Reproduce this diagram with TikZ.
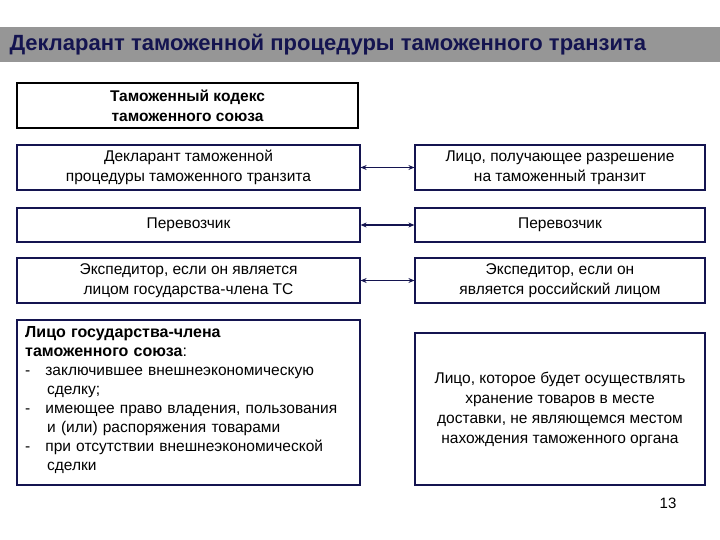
\documentclass[tikz,border=0pt]{standalone}
\usepackage{fontspec}
\setmainfont{Liberation Sans}
\usetikzlibrary{arrows.meta}
\definecolor{navy}{RGB}{20,20,80}
\definecolor{bar}{RGB}{150,150,150}
\begin{document}
\begin{tikzpicture}[x=1pt,y=-1pt,
 bx/.style={draw=navy,line width=1.2pt,fill=white,inner sep=0pt,align=center,font=\fontsize{15.5}{20}\selectfont},
 lk/.style={draw=navy,line width=1.1pt,{Stealth[length=6pt,width=5pt]}-{Stealth[length=6pt,width=5pt]}}]
\useasboundingbox (0,0) rectangle (720,540);
\fill[bar] (0,27) rectangle (720,62);
\node[anchor=west,text=navy,font=\fontsize{22}{24}\selectfont\bfseries] (t) at (6,45) {Декларант таможенной процедуры таможенного транзита};
\node[bx,draw=black,line width=1.5pt,minimum width=341pt,minimum height=45pt,font=\fontsize{15.5}{20}\selectfont\bfseries] (k) at (187.5,105.5) {Таможенный кодекс\\таможенного союза};
\node[bx,minimum width=343pt,minimum height=45pt] (l1) at (188.5,167.5) {Декларант таможенной\\процедуры таможенного транзита};
\node[bx,minimum width=290pt,minimum height=45pt] (r1) at (560,167.5) {Лицо, получающее разрешение\\на таможенный транзит};
\node[bx,minimum width=343pt,minimum height=34pt] (l2) at (188.5,225) {Перевозчик};
\node[bx,minimum width=290pt,minimum height=34pt] (r2) at (560,225) {Перевозчик};
\node[bx,minimum width=343pt,minimum height=45pt] (l3) at (188.5,280.5) {Экспедитор, если он является\\лицом государства-члена ТС};
\node[bx,minimum width=290pt,minimum height=45pt] (r3) at (560,280.5) {Экспедитор, если он\\является российский лицом};
\node[bx,minimum width=343pt,minimum height=165pt] (l4) at (188.5,402.5) {};
\node[anchor=north west,align=left,inner sep=0pt,font=\fontsize{15.5}{19}\selectfont,text width=335pt] (l4t) at (25,326) {{\fontsize{16}{20}\selectfont\bfseries Лицо государства-члена\\таможенного союза}{\fontsize{16}{20}\selectfont:}\\
-\hspace{15pt}заключившее внешнеэкономическую\\\hspace{22pt}сделку;\\
-\hspace{15pt}имеющее право владения, пользования\\\hspace{22pt}и (или) распоряжения товарами\\
-\hspace{15pt}при отсутствии внешнеэкономической\\\hspace{22pt}сделки};
\node[bx,minimum width=290pt,minimum height=152pt] (r4) at (560,409) {Лицо, которое будет осуществлять\\хранение товаров в месте\\доставки, не являющемся местом\\нахождения таможенного органа};
\draw[lk] (l1.east) -- (r1.west);
\draw[lk] (l2.east) -- (r2.west);
\draw[lk] (l3.east) -- (r3.west);
\node[font=\fontsize{15}{16}\selectfont] (p) at (668,503) {13};
\end{tikzpicture}
\end{document}
